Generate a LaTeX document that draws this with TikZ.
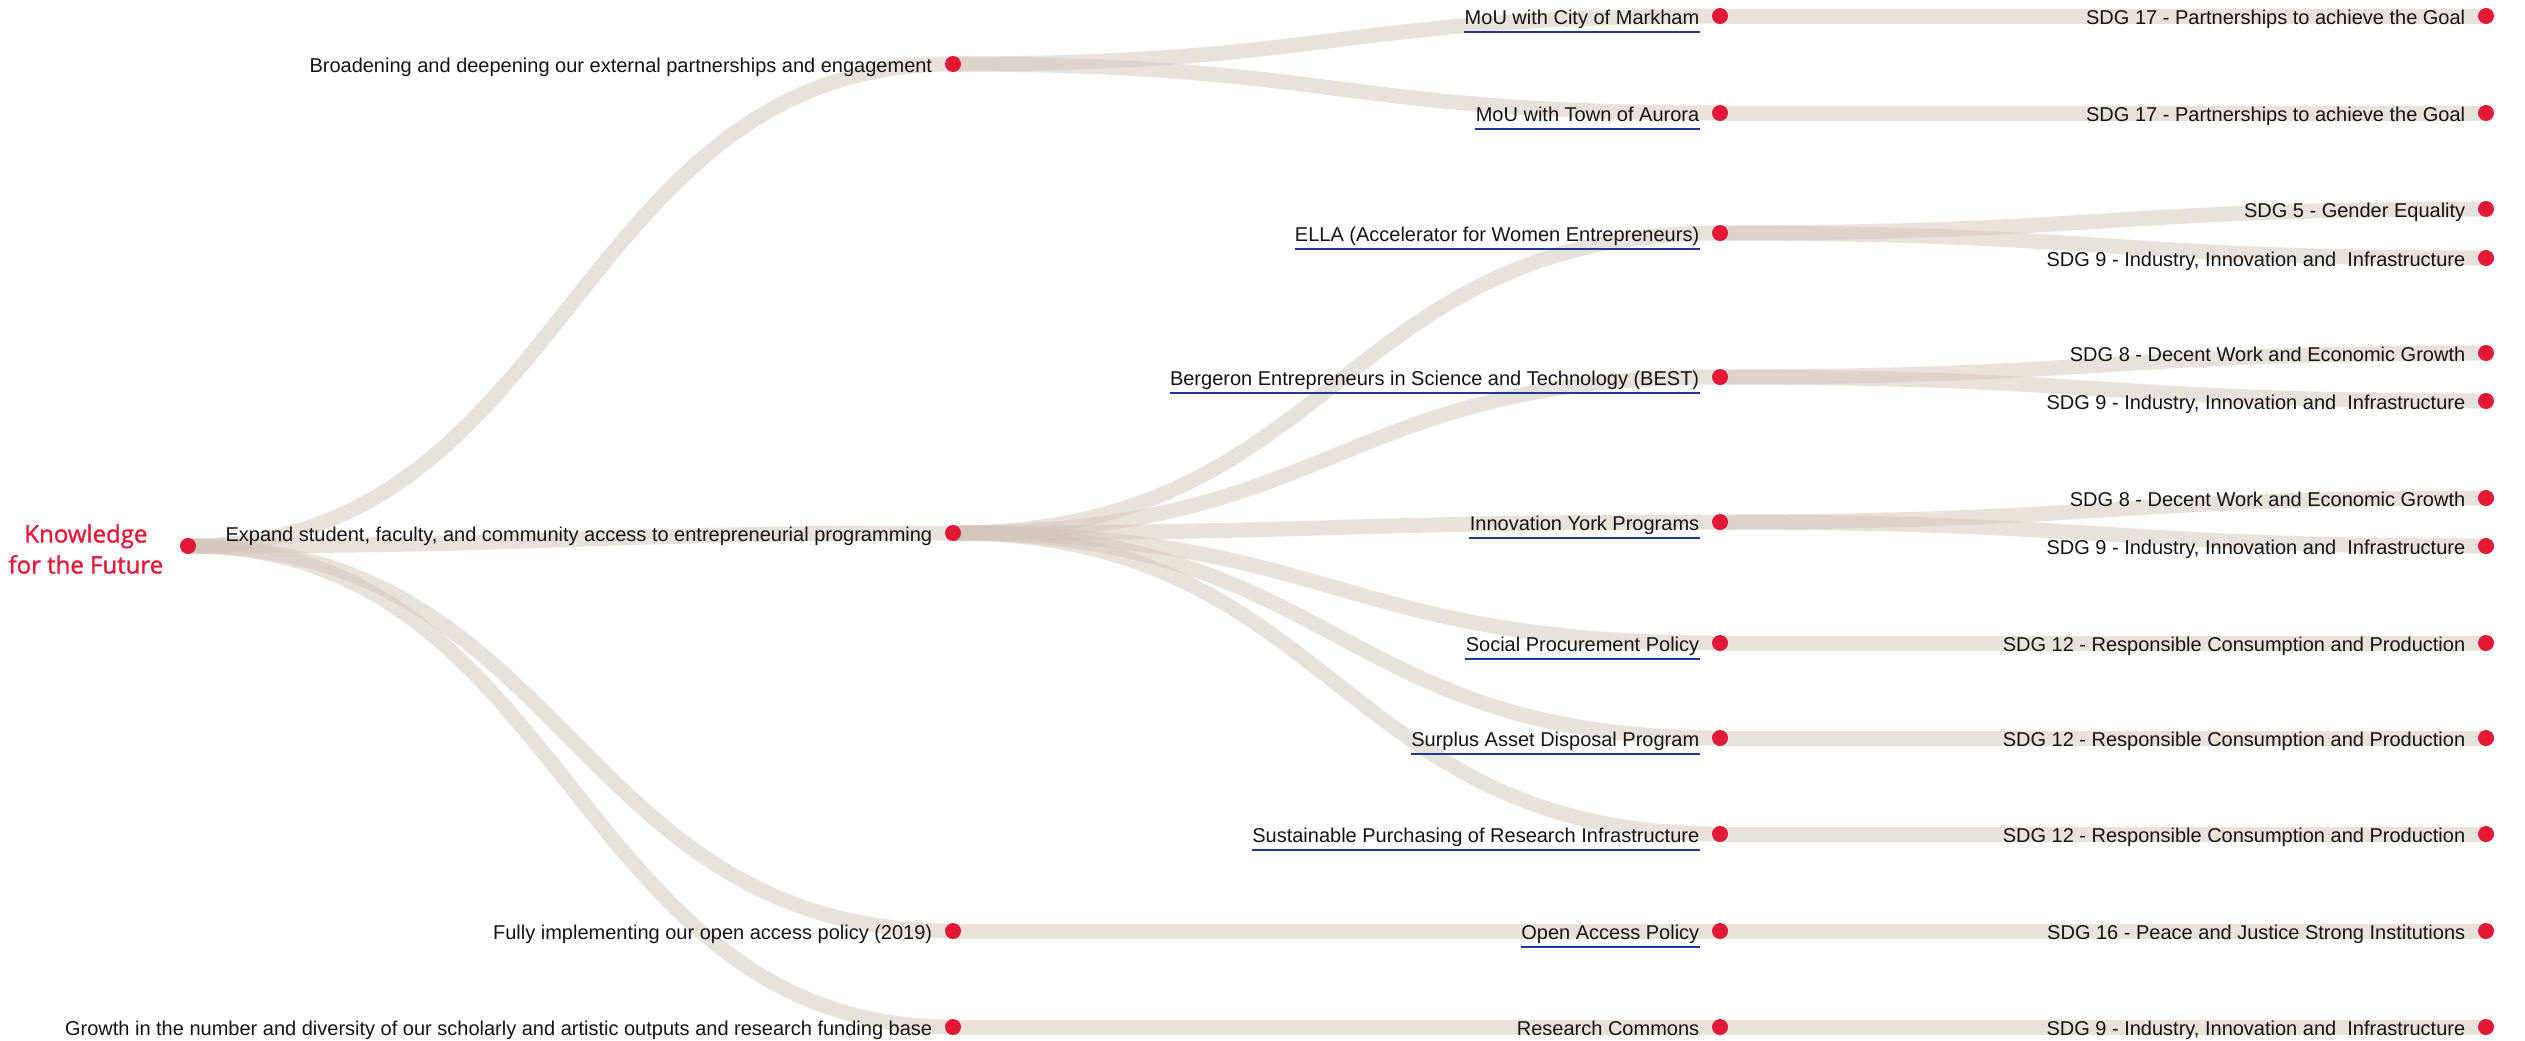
\documentclass[tikz,border=0pt]{standalone}
\usepackage{fontspec}
\setmainfont{Liberation Sans}
\newfontfamily\rootfont[FakeBold=1.2]{Open Sans}
\usepackage{xcolor}
\usepackage{tikz}
\usetikzlibrary{positioning}
\usetikzlibrary{backgrounds}
\definecolor{dotred}{RGB}{227,24,55}
\definecolor{ribbonbeige}{RGB}{210,197,186}
\definecolor{linkblue}{RGB}{30,58,150}
\tikzset{%
  leaf/.style={circle,fill=dotred,draw=none,minimum size=8pt,inner sep=0pt}
}
\tikzset{%
  tag/.style={inner sep=0pt,anchor=base east,yshift=-4pt,font=\fontsize{10}{12}\selectfont,text=black!92}
}
\tikzset{%
  ulink/.style={append after command={([yshift=-4pt]\tikzlastnode.base west) edge[draw=linkblue,line width=1.1pt] ([yshift=-4pt]\tikzlastnode.base east)}}
}
\tikzset{%
  ribbon/.style={draw=ribbonbeige,draw opacity=0.5,line width=7.5pt}
}
\newcommand{\flow}[2]{%
  \path (#1.center) -- coordinate[pos=0.5] (mid) (#2.center);
  \draw[ribbon] (#1.center) .. controls (mid |- #1.center) and (mid |- #2.center) .. (#2.center);}

\begin{document}
\begin{tikzpicture}[x=0.5pt,y=-0.5pt]
            \useasboundingbox (0,0) rectangle (2525,1040);

            % root
            \node[leaf](root) at (188,546){};
            \node[left=8pt of root,yshift=-1.5pt,align=center,inner sep=0pt,text=dotred,font=\rootfont\fontsize{12}{15.5}\selectfont](rootlabel){Knowledge\\for the Future};

            % goals
            \node[leaf](brd) at (953,64){};
            \node[left=6pt of brd,tag](brdlabel){Broadening and deepening our external partnerships and engagement};
            \node[leaf](exp) at (953,533){};
            \node[left=6pt of exp,tag](explabel){Expand student, faculty, and community access to entrepreneurial programming};
            \node[leaf](oap) at (953,931){};
            \node[left=6pt of oap,tag](oaplabel){Fully implementing our open access policy (2019)};
            \node[leaf](grw) at (953,1027){};
            \node[left=6pt of grw,tag](grwlabel){Growth in the number and diversity of our scholarly and artistic outputs and research funding base};

            % initiatives
            \node[leaf](mkm) at (1720,16){};
            \node[left=6pt of mkm,tag,ulink](mkmlabel){MoU with City of Markham};
            \node[leaf](aur) at (1720,113){};
            \node[left=6pt of aur,tag,ulink](aurlabel){MoU with Town of Aurora};
            \node[leaf](ella) at (1720,233){};
            \node[left=6pt of ella,tag,ulink](ellalabel){ELLA (Accelerator for Women Entrepreneurs)};
            \node[leaf](best) at (1720,377){};
            \node[left=6pt of best,tag,ulink](bestlabel){Bergeron Entrepreneurs in Science and Technology (BEST)};
            \node[leaf](iny) at (1720,522){};
            \node[left=6pt of iny,tag,ulink](inylabel){Innovation York Programs};
            \node[leaf](spp) at (1720,643){};
            \node[left=6pt of spp,tag,ulink](spplabel){Social Procurement Policy};
            \node[leaf](sad) at (1720,738){};
            \node[left=6pt of sad,tag,ulink](sadlabel){Surplus Asset Disposal Program};
            \node[leaf](spr) at (1720,834){};
            \node[left=6pt of spr,tag,ulink](sprlabel){Sustainable Purchasing of Research Infrastructure};
            \node[leaf](oal) at (1720,931){};
            \node[left=6pt of oal,tag,ulink](oallabel){Open Access Policy};
            \node[leaf](rco) at (1720,1027){};
            \node[left=6pt of rco,tag](rcolabel){Research Commons};

            % sdgs
            \node[leaf](sdga) at (2486,16){};
            \node[left=6pt of sdga,tag](sdgalabel){SDG 17 - Partnerships to achieve the Goal};
            \node[leaf](sdgb) at (2486,113){};
            \node[left=6pt of sdgb,tag](sdgblabel){SDG 17 - Partnerships to achieve the Goal};
            \node[leaf](sdgc) at (2486,209){};
            \node[left=6pt of sdgc,tag](sdgclabel){SDG 5 - Gender Equality};
            \node[leaf](sdgd) at (2486,258){};
            \node[left=6pt of sdgd,tag](sdgdlabel){SDG 9 - Industry, Innovation and~ Infrastructure};
            \node[leaf](sdge) at (2486,353){};
            \node[left=6pt of sdge,tag](sdgelabel){SDG 8 - Decent Work and Economic Growth};
            \node[leaf](sdgf) at (2486,401){};
            \node[left=6pt of sdgf,tag](sdgflabel){SDG 9 - Industry, Innovation and~ Infrastructure};
            \node[leaf](sdgg) at (2486,498){};
            \node[left=6pt of sdgg,tag](sdgglabel){SDG 8 - Decent Work and Economic Growth};
            \node[leaf](sdgh) at (2486,546){};
            \node[left=6pt of sdgh,tag](sdghlabel){SDG 9 - Industry, Innovation and~ Infrastructure};
            \node[leaf](sdgi) at (2486,643){};
            \node[left=6pt of sdgi,tag](sdgilabel){SDG 12 - Responsible Consumption and Production};
            \node[leaf](sdgj) at (2486,738){};
            \node[left=6pt of sdgj,tag](sdgjlabel){SDG 12 - Responsible Consumption and Production};
            \node[leaf](sdgk) at (2486,834){};
            \node[left=6pt of sdgk,tag](sdgklabel){SDG 12 - Responsible Consumption and Production};
            \node[leaf](sdgl) at (2486,931){};
            \node[left=6pt of sdgl,tag](sdgllabel){SDG 16 - Peace and Justice Strong Institutions};
            \node[leaf](sdgm) at (2486,1027){};
            \node[left=6pt of sdgm,tag](sdgmlabel){SDG 9 - Industry, Innovation and~ Infrastructure};

            % ribbons behind everything
            \begin{scope}[on background layer]
                \flow{root}{brd}\flow{root}{exp}\flow{root}{oap}\flow{root}{grw}
                \flow{brd}{mkm}\flow{brd}{aur}
                \flow{exp}{ella}\flow{exp}{best}\flow{exp}{iny}
                \flow{exp}{spp}\flow{exp}{sad}\flow{exp}{spr}
                \flow{oap}{oal}\flow{grw}{rco}
                \flow{mkm}{sdga}\flow{aur}{sdgb}
                \flow{ella}{sdgc}\flow{ella}{sdgd}
                \flow{best}{sdge}\flow{best}{sdgf}
                \flow{iny}{sdgg}\flow{iny}{sdgh}
                \flow{spp}{sdgi}\flow{sad}{sdgj}\flow{spr}{sdgk}
                \flow{oal}{sdgl}\flow{rco}{sdgm}
            \end{scope}
        \end{tikzpicture}
\end{document}
